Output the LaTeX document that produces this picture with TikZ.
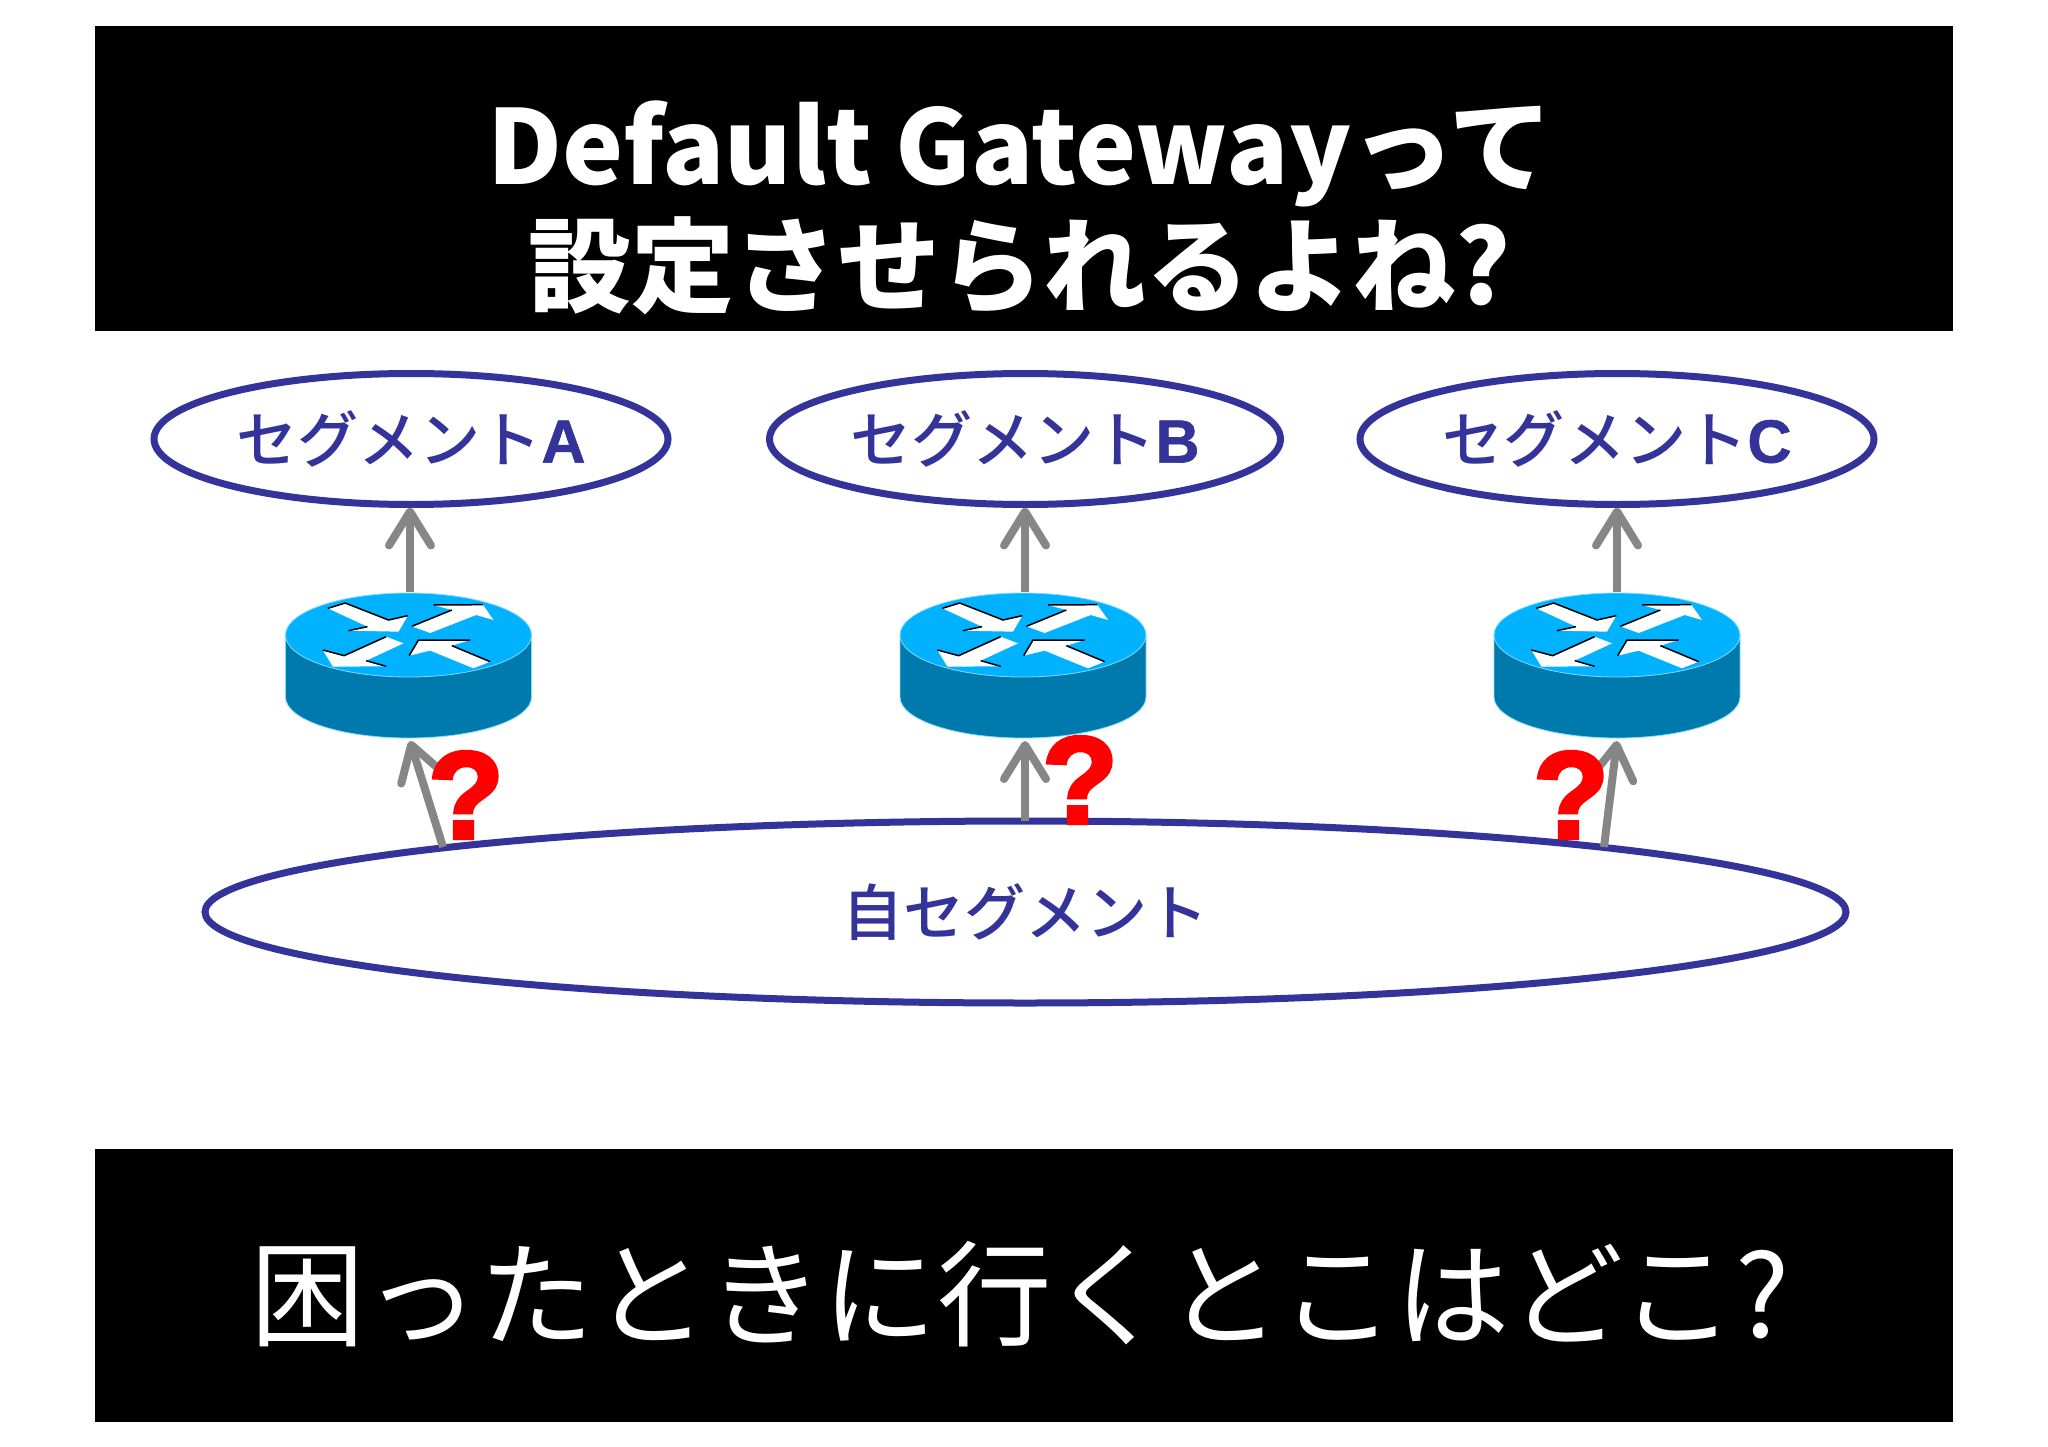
\documentclass[tikz,border=0pt]{standalone}
\usepackage{fontspec}
\setmainfont{Noto Sans CJK JP}
\newfontfamily\qfont[FakeBold=3]{Liberation Sans}
\newfontfamily\segfont[FakeBold=1]{Liberation Sans}
\newfontfamily\segjafont{Noto Sans CJK JP Medium}
\usetikzlibrary{shapes.geometric,arrows.meta}
\definecolor{segblue}{HTML}{333399}
\definecolor{routertop}{HTML}{00B2FF}
\definecolor{routerside}{HTML}{0079AD}
\definecolor{routerrim}{HTML}{7FDCFF}
\definecolor{arrowgray}{HTML}{868686}
\tikzset{
  band/.style={fill=black,inner sep=0,outer sep=0,minimum width=1858},
  bandtext/.style={text=white,inner sep=0,outer sep=0,align=center},
  seg/.style={draw=segblue,line width=7,ellipse,fill=white,inner sep=0,outer sep=0,text=segblue,font=\segjafont\fontsize{61}{63}\selectfont},
  routerbox/.style={inner sep=0,outer sep=0,minimum width=247,minimum height=146},
  uparrow/.style={draw=arrowgray,line width=8,-{Straight Barb[length=34,width=42,round]}},
  qmark/.style={inner sep=0,outer sep=0,text=red,font=\qfont\bfseries\fontsize{124}{124}\selectfont},
  whitearrow/.style={fill=white},
  blackedge/.style={draw=black,line width=1.5},
  router/.pic={
    \fill[routerside,draw=routerrim,line width=0.8] (-123,-30) -- (-123,32)
      arc[start angle=180,end angle=360,x radius=123pt,y radius=41pt] -- (123,-30) -- cycle;
    \fill[routertop,draw=routerrim,line width=0.8] (0,-30) ellipse[x radius=123pt,y radius=42pt];
    \begin{scope}[shift={(0,-30)},x=0.3333pt,y=-0.3333pt]
      \fill[whitearrow] (-242,-80) -- (-190,-96) -- (-60,-45) -- (-2,-58) -- (-30,-10) -- (-180,-13) -- (-123,-25) -- cycle;
      \fill[whitearrow] (10,-26) -- (130,-75) -- (75,-90) -- (223,-91) -- (255,-45) -- (203,-60) -- (65,-6) -- cycle;
      \fill[whitearrow] (-15,25) -- (-67,5) -- (-193,62) -- (-257,45) -- (-227,95) -- (-67,94) -- (-127,77) -- cycle;
      \fill[whitearrow] (2,62) -- (30,15) -- (185,15) -- (130,32) -- (245,80) -- (195,100) -- (65,47) -- cycle;
      \draw[blackedge] (-242,-80) -- (-190,-96) -- (-60,-45) -- (-2,-58);
      \draw[blackedge] (-180,-13) -- (-123,-25);
      \draw[blackedge] (10,-26) -- (130,-75);
      \draw[blackedge] (75,-90) -- (223,-91);
      \draw[blackedge] (-67,5) -- (-193,62) -- (-257,45);
      \draw[blackedge] (-127,77) -- (-67,94);
      \draw[blackedge] (2,62) -- (30,15) -- (185,15);
      \draw[blackedge] (130,32) -- (245,80);
    \end{scope}
  }
}
\begin{document}
\begin{tikzpicture}[x=1pt,y=-1pt]
  \useasboundingbox (0,0) rectangle (2048,1447);
  \node (titleband) [band,minimum height=305] at (1024,178.5) {};
  \node (questionband) [band,minimum height=273] at (1024,1285) {};
  \node (title) [bandtext,font=\bfseries\fontsize{103}{120}\selectfont] at (1020,208) {Default Gatewayって\\設定させられるよね?};
  \node (question) [bandtext,font=\fontsize{114.5}{120}\selectfont] at (1020,1294) {困ったときに行くとこはどこ?};
  \node (segA) [seg,minimum width=514,minimum height=131] at (411,439) {セグメント{\segfont\bfseries A}};
  \node (segB) [seg,minimum width=511,minimum height=131] at (1025,439) {セグメント{\segfont\bfseries B}};
  \node (segC) [seg,minimum width=514,minimum height=131] at (1617,439) {セグメント{\segfont\bfseries C}};
  \node (selfseg) [seg,minimum width=1641,minimum height=182] at (1025.5,912) {自セグメント};
  \node (routerA) [routerbox] at (408.5,665) {};
  \node (routerB) [routerbox] at (1023,665) {};
  \node (routerC) [routerbox] at (1617,665) {};
  \pic at (routerA) {router};
  \pic at (routerB) {router};
  \pic at (routerC) {router};
  \coordinate (baseA) at (443,847);
  \coordinate (baseC) at (1604,847);
  \coordinate (tipA) at (410,741);
  \coordinate (tipB) at (1025,741);
  \coordinate (tipC) at (1617,741);
  \begin{scope}[shorten >=3]
    \draw[uparrow] (routerA.north -| tipA) -- (tipA |- segA.south);
    \draw[uparrow] (routerB.north -| tipB) -- (tipB |- segB.south);
    \draw[uparrow] (routerC.north -| tipC) -- (tipC |- segC.south);
  \end{scope}
  \draw[uparrow] (baseA) -- (tipA);
  \draw[uparrow] (selfseg.north -| tipB) -- (tipB);
  \draw[uparrow] (baseC) -- (tipC);
  \node (qA) [qmark] at (466,795) {?};
  \node (qB) [qmark] at (1080,780) {?};
  \node (qC) [qmark] at (1571,795) {?};
\end{tikzpicture}
\end{document}
